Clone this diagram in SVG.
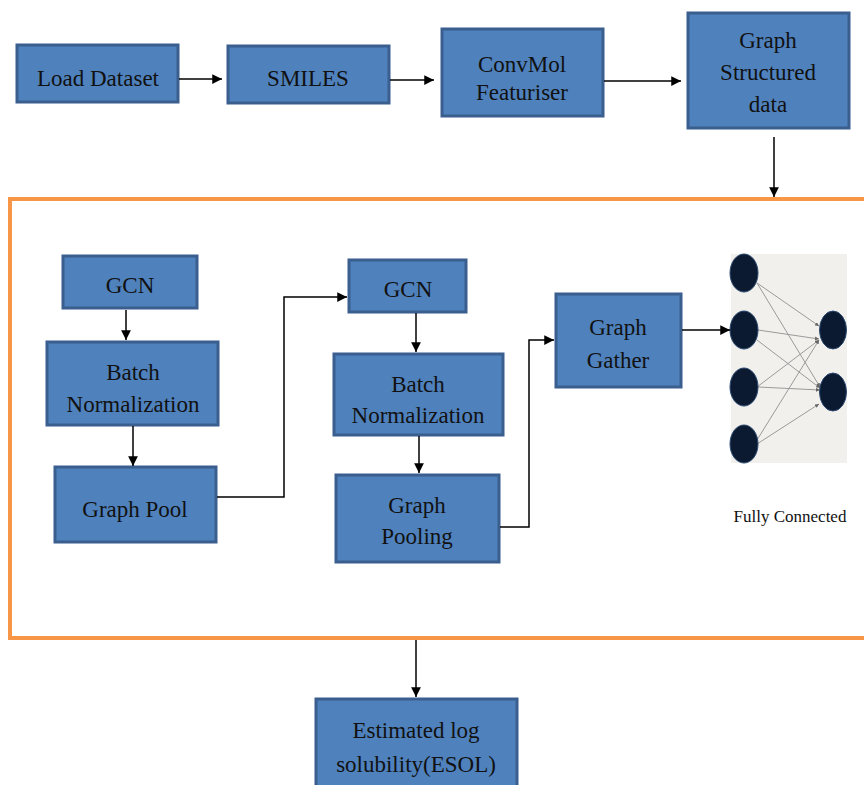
<svg xmlns="http://www.w3.org/2000/svg" width="864" height="785" viewBox="0 0 864 785">
<style>
.box{fill:#4F81BD;stroke:#3A5F8F;stroke-width:3}
.t{font-family:"Liberation Serif","Times New Roman",serif;font-size:23px;fill:#111;text-anchor:middle}
.c{fill:none;stroke:#000;stroke-width:1.5}
.e{fill:none;stroke:#9a9a9a;stroke-width:1}
.n{fill:#0B1A30;stroke:#2c4a70;stroke-width:1}
</style>
<defs>
<marker id="ah" viewBox="0 0 10 10" refX="10" refY="5" markerWidth="6.5" markerHeight="6.5" orient="auto" markerUnits="strokeWidth"><path d="M0,0 L10,5 L0,10 z" fill="#000"/></marker>
<marker id="sh" viewBox="0 0 10 10" refX="10" refY="5" markerWidth="4" markerHeight="4" orient="auto" markerUnits="strokeWidth"><path d="M0,0 L10,5 L0,10 z" fill="#666"/></marker>
</defs>
<rect x="0" y="0" width="864" height="785" fill="#fff"/>
<rect id="frame" x="10" y="199" width="870" height="439" fill="none" stroke="#F79646" stroke-width="4"/>

<g id="load"><rect class="box" x="17" y="45" width="161" height="57"/><text class="t" x="98" y="86">Load Dataset</text></g>
<g id="smiles"><rect class="box" x="228" y="46" width="161" height="57"/><text class="t" x="308" y="86">SMILES</text></g>
<g id="convmol"><rect class="box" x="442" y="29" width="161" height="87"/><text class="t" x="522" y="72">ConvMol</text><text class="t" x="522" y="100">Featuriser</text></g>
<g id="graphdata"><rect class="box" x="688" y="13" width="161" height="115"/><text class="t" x="768" y="48">Graph</text><text class="t" x="768" y="80">Structured</text><text class="t" x="768" y="112">data</text></g>

<g id="gcn1"><rect class="box" x="63" y="256" width="134" height="52"/><text class="t" x="130" y="293">GCN</text></g>
<g id="bn1"><rect class="box" x="47" y="342" width="171" height="83"/><text class="t" x="133" y="380">Batch</text><text class="t" x="133" y="412">Normalization</text></g>
<g id="pool1"><rect class="box" x="55" y="467" width="161" height="75"/><text class="t" x="135" y="517">Graph Pool</text></g>

<g id="gcn2"><rect class="box" x="349" y="260" width="117" height="52"/><text class="t" x="408" y="297">GCN</text></g>
<g id="bn2"><rect class="box" x="334" y="354" width="169" height="81"/><text class="t" x="418" y="392">Batch</text><text class="t" x="418" y="423">Normalization</text></g>
<g id="pool2"><rect class="box" x="336" y="475" width="163" height="87"/><text class="t" x="417" y="513">Graph</text><text class="t" x="417" y="544">Pooling</text></g>

<g id="gather"><rect class="box" x="556" y="294" width="125" height="93"/><text class="t" x="618" y="335">Graph</text><text class="t" x="618" y="368">Gather</text></g>

<g id="esol"><rect class="box" x="316" y="699" width="201" height="100"/><text class="t" x="416" y="738">Estimated log</text><text class="t" x="416" y="772">solubility(ESOL)</text></g>

<g id="fc">
<rect x="731" y="254" width="116" height="209" fill="#F2F0ED"/>
<g class="edges">
<line class="e" x1="757" y1="283" x2="819" y2="326" marker-end="url(#sh)"/>
<line class="e" x1="757" y1="283" x2="820" y2="387" marker-end="url(#sh)"/>
<line class="e" x1="758" y1="330" x2="819" y2="339" marker-end="url(#sh)"/>
<line class="e" x1="757" y1="340" x2="820" y2="388" marker-end="url(#sh)"/>
<line class="e" x1="757" y1="387" x2="819" y2="340" marker-end="url(#sh)"/>
<line class="e" x1="758" y1="387" x2="820" y2="390" marker-end="url(#sh)"/>
<line class="e" x1="757" y1="440" x2="819" y2="340" marker-end="url(#sh)"/>
<line class="e" x1="757" y1="444" x2="819" y2="404" marker-end="url(#sh)"/>
</g>
<ellipse class="n" cx="744" cy="273" rx="14" ry="19"/>
<ellipse class="n" cx="744" cy="330" rx="14" ry="19"/>
<ellipse class="n" cx="744" cy="387" rx="14" ry="19"/>
<ellipse class="n" cx="744" cy="444" rx="14" ry="19"/>
<ellipse class="n" cx="833" cy="330" rx="13.5" ry="19"/>
<ellipse class="n" cx="833" cy="392" rx="13.5" ry="19"/>
<text x="790" y="522" font-family="'Liberation Serif','Times New Roman',serif" font-size="17" fill="#111" text-anchor="middle">Fully Connected</text>
</g>

<g id="connectors">
<line class="c" x1="179" y1="79" x2="222" y2="79" marker-end="url(#ah)"/>
<line class="c" x1="390" y1="80" x2="434" y2="80" marker-end="url(#ah)"/>
<line class="c" x1="604" y1="81" x2="681" y2="81" marker-end="url(#ah)"/>
<line class="c" x1="774" y1="137" x2="774" y2="197" marker-end="url(#ah)"/>
<line class="c" x1="126" y1="310" x2="126" y2="340" marker-end="url(#ah)"/>
<line class="c" x1="133" y1="426" x2="133" y2="466" marker-end="url(#ah)"/>
<polyline class="c" points="217,497 284,497 284,297 347,297" marker-end="url(#ah)"/>
<line class="c" x1="416" y1="313" x2="416" y2="352" marker-end="url(#ah)"/>
<line class="c" x1="419" y1="436" x2="419" y2="473" marker-end="url(#ah)"/>
<polyline class="c" points="500,527 529,527 529,340 554,340" marker-end="url(#ah)"/>
<line class="c" x1="682" y1="330" x2="730" y2="330" marker-end="url(#ah)"/>
<line class="c" x1="416" y1="640" x2="416" y2="697" marker-end="url(#ah)"/>
</g>
</svg>
